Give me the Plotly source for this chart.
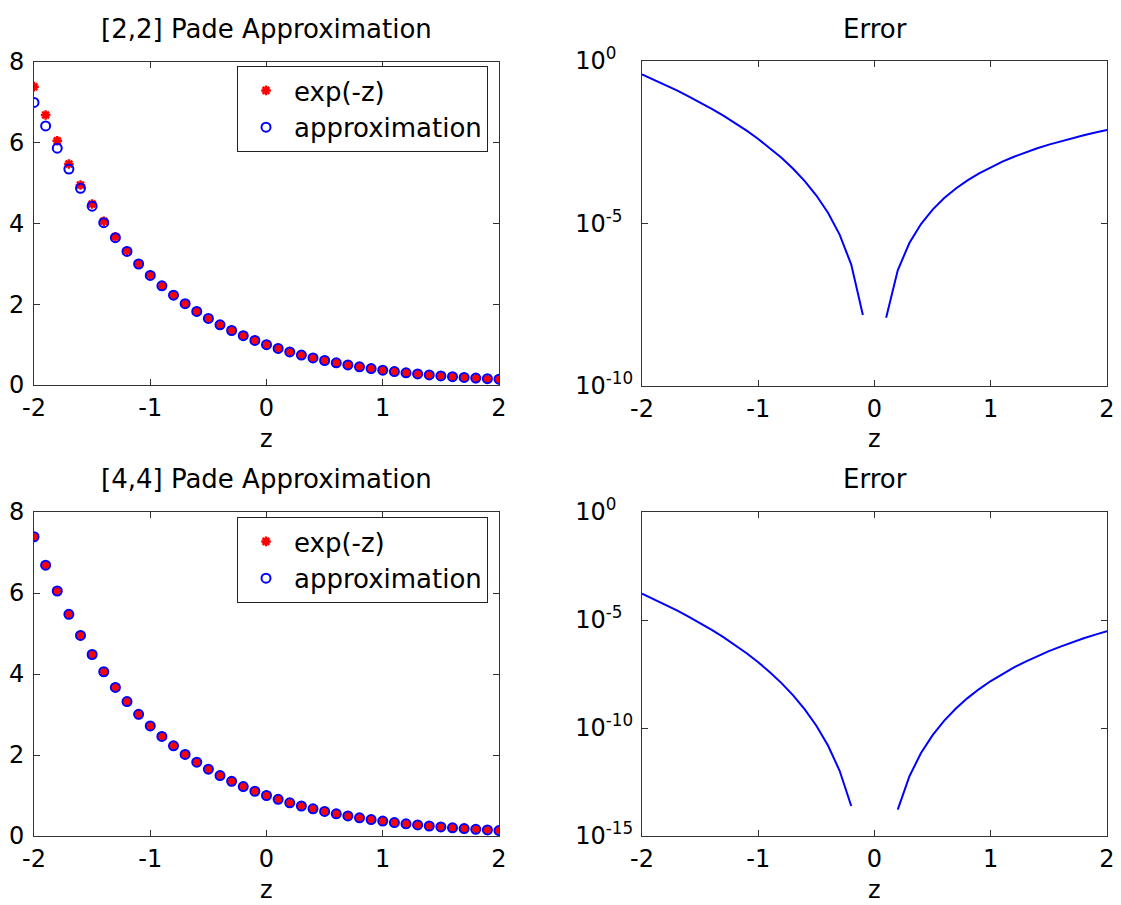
import plotly.graph_objects as go

# ---------------- data ----------------
z = [-2.0, -1.9, -1.8, -1.7, -1.6, -1.5, -1.4, -1.3, -1.2, -1.1, -1.0,
     -0.9, -0.8, -0.7, -0.6, -0.5, -0.4, -0.3, -0.2, -0.1, 0.0,
     0.1, 0.2, 0.3, 0.4, 0.5, 0.6, 0.7, 0.8, 0.9, 1.0,
     1.1, 1.2, 1.3, 1.4, 1.5, 1.6, 1.7, 1.8, 1.9, 2.0]

exp_vals = [7.3891, 6.6859, 6.0496, 5.4739, 4.9530, 4.4817, 4.0552, 3.6693, 3.3201, 3.0042, 2.7183,
            2.4596, 2.2255, 2.0138, 1.8221, 1.6487, 1.4918, 1.3499, 1.2214, 1.1052, 1.0,
            0.9048, 0.8187, 0.7408, 0.6703, 0.6065, 0.5488, 0.4966, 0.4493, 0.4066, 0.3679,
            0.3329, 0.3012, 0.2725, 0.2466, 0.2231, 0.2019, 0.1827, 0.1653, 0.1496, 0.1353]

approx22 = [7.0, 6.4157, 5.8649, 5.3497, 4.8710, 4.4286, 4.0216, 3.6486, 3.3077, 2.9970, 2.7143,
            2.4575, 2.2245, 2.0133, 1.8219, 1.6486, 1.4918, 1.3499, 1.2214, 1.1052, 1.0,
            0.9048, 0.8187, 0.7408, 0.6703, 0.6066, 0.5489, 0.4967, 0.4495, 0.4069, 0.3684,
            0.3337, 0.3023, 0.2741, 0.2486, 0.2258, 0.2053, 0.1869, 0.1705, 0.1559, 0.1429]

approx44 = [7.3889, 6.6858, 6.0496, 5.4739, 4.9530, 4.4817, 4.0552, 3.6693, 3.3201, 3.0042, 2.7183,
            2.4596, 2.2255, 2.0138, 1.8221, 1.6487, 1.4918, 1.3499, 1.2214, 1.1052, 1.0,
            0.9048, 0.8187, 0.7408, 0.6703, 0.6065, 0.5488, 0.4966, 0.4493, 0.4066, 0.3679,
            0.3329, 0.3012, 0.2725, 0.2466, 0.2231, 0.2019, 0.1827, 0.1653, 0.1496, 0.1353]

err22 = [0.389056, 0.270217, 0.184782, 0.124267, 0.082064, 0.053118, 0.033617, 0.020740, 0.012425,
         0.007192, 0.003996, 0.002113, 0.001051, 4.837e-4, 2.010e-4, 7.26e-5, 2.14e-5, 4.57e-6,
         5.44e-7, 1.536e-8, None,
         1.257e-8, 3.647e-7, 2.514e-6, 9.6e-6, 2.67e-5, 6.05e-5, 1.194e-4, 2.12e-4, 3.50e-4,
         5.42e-4, 7.99e-4, 1.131e-3, 1.549e-3, 2.061e-3, 2.676e-3, 3.401e-3, 4.244e-3, 5.208e-3,
         6.300e-3, 7.522e-3]

err44 = [1.6721e-4, 9.4295e-5, 5.1893e-5, 2.7791e-5, 1.4434e-5, 7.2410e-6, 3.4919e-6, 1.6091e-6,
         7.0329e-7, 2.8887e-7, 1.1018e-7, 3.8410e-8, 1.1981e-8, 3.2452e-9, 7.3054e-10, 1.2770e-10,
         1.5468e-11, 1.0487e-12, 2.4647e-14, None, None,
         None, 1.6521e-14, 5.7555e-13, 6.9501e-12, 4.6978e-11, 2.2003e-10, 8.0025e-10, 2.4189e-9,
         6.3491e-9, 1.4911e-8, 3.2008e-8, 6.3801e-8, 1.1951e-7, 2.1234e-7, 3.6051e-7, 5.8835e-7,
         9.2747e-7, 1.4179e-6, 2.1095e-6, 3.0626e-6]

x_ticks = [-2, -1, 0, 1, 2]
x_ticktext = ["-2", "-1", "0", "1", "2"]
lin_ticks = [0, 2, 4, 6, 8]
log_ticks_top = [1, 1e-5, 1e-10]
log_ticks_bot = [1, 1e-5, 1e-10, 1e-15]
_pad = '<span style="color:rgba(0,0,0,0)">{}</span>'
log_text = {
    1: "10<sup>0" + _pad.format("-1") + "</sup>",
    1e-5: "10<sup>-5" + _pad.format("0") + "</sup>",
    1e-10: "10<sup>-10</sup>",
    1e-15: "10<sup>-15</sup>",
}

titles = ["[2,2] Pade Approximation", "Error", "[4,4] Pade Approximation", "Error"]
legend_names = ["exp(-z)", "approximation"]

# ---------------- layout helpers ----------------
W, H = 1121, 905
FONT = "DejaVu Sans"


def px_x(p):
    return p / W


def px_y(p):
    return 1 - p / H


boxes = {  # (left, right, top, bottom) in pixels
    1: (34, 499, 62, 385),
    2: (642, 1107, 61, 386),
    3: (34, 499, 512, 836),
    4: (642, 1107, 512, 836),
}

fig = go.Figure()

RED = "#ff0000"
BLUE = "#0000ff"

for idx, approx, leg in [(1, approx22, "legend"), (3, approx44, "legend2")]:
    xa = "x" if idx == 1 else "x3"
    ya = "y" if idx == 1 else "y3"
    fig.add_trace(go.Scatter(
        x=z, y=exp_vals, mode="markers", name=legend_names[0], xaxis=xa, yaxis=ya,
        legend=leg, legendgroup="a%d" % idx,
        marker=dict(symbol="asterisk-open", size=8, color=RED, line=dict(width=2.5, color=RED)),
    ))
    fig.add_trace(go.Scatter(
        x=z, y=approx, mode="markers", name=legend_names[1], xaxis=xa, yaxis=ya,
        legend=leg, legendgroup="b%d" % idx,
        marker=dict(symbol="circle-open", size=9, color=BLUE, line=dict(width=2, color=BLUE)),
    ))

for idx, err in [(2, err22), (4, err44)]:
    fig.add_trace(go.Scatter(
        x=z, y=err, mode="lines", showlegend=False, xaxis="x%d" % idx, yaxis="y%d" % idx,
        line=dict(color=BLUE, width=2), connectgaps=False,
    ))

axis_common = dict(
    showline=True, linecolor="#333333", linewidth=1, mirror="ticks",
    ticks="inside", ticklen=6, tickcolor="#333333", tickwidth=1,
    showgrid=False, zeroline=False, automargin=False,
    tickfont=dict(family=FONT, size=24, color="black"),
)

layout = dict(
    width=W, height=H, autosize=False,
    margin=dict(l=0, r=0, t=0, b=0, autoexpand=False),
    paper_bgcolor="white", plot_bgcolor="white",
    font=dict(family=FONT, color="black"),
)

for idx, (l, r, t, b) in boxes.items():
    sx = "" if idx == 1 else str(idx)
    xaxis = dict(axis_common, domain=[px_x(l), px_x(r)], anchor="y" + sx, range=[-2, 2],
                 tickvals=x_ticks, ticktext=x_ticktext, ticklabelstandoff=1)
    if idx in (1, 3):
        yaxis = dict(axis_common, domain=[px_y(b), px_y(t)], anchor="x" + sx, range=[0, 8],
                     tickvals=lin_ticks, ticklabelstandoff=4)
    else:
        vals = log_ticks_top if idx == 2 else log_ticks_bot
        yaxis = dict(axis_common, domain=[px_y(b), px_y(t)], anchor="x" + sx, type="log",
                     range=[-10, 0] if idx == 2 else [-15, 0],
                     tickvals=vals, ticktext=[log_text[v] for v in vals], ticklabelstandoff=3)
    layout["xaxis" + sx] = xaxis
    layout["yaxis" + sx] = yaxis

legend_common = dict(
    xanchor="right", yanchor="top", bgcolor="white", bordercolor="#222222", borderwidth=1,
    font=dict(family=FONT, size=26, color="black"), itemwidth=46, tracegroupgap=10,
    traceorder="normal", orientation="v",
)
layout["legend"] = dict(legend_common, x=px_x(488), y=px_y(66))
layout["legend2"] = dict(legend_common, x=px_x(488), y=px_y(517))

annotations = []
title_y = {1: 29, 2: 29, 3: 479, 4: 479}
zlabel_y = {1: 439, 2: 439, 3: 890, 4: 890}
for idx, (l, r, t, b) in boxes.items():
    cx = (l + r) / 2
    annotations.append(dict(text=titles[idx - 1], x=px_x(cx), y=px_y(title_y[idx]), xref="paper",
                            yref="paper", xanchor="center", yanchor="middle", showarrow=False,
                            font=dict(family=FONT, size=26, color="black")))
    annotations.append(dict(text="z", x=px_x(cx), y=px_y(zlabel_y[idx]), xref="paper",
                            yref="paper", xanchor="center", yanchor="middle", showarrow=False,
                            font=dict(family=FONT, size=24, color="black")))
layout["annotations"] = annotations

fig.update_layout(**layout)
fig.write_html("out.html")
